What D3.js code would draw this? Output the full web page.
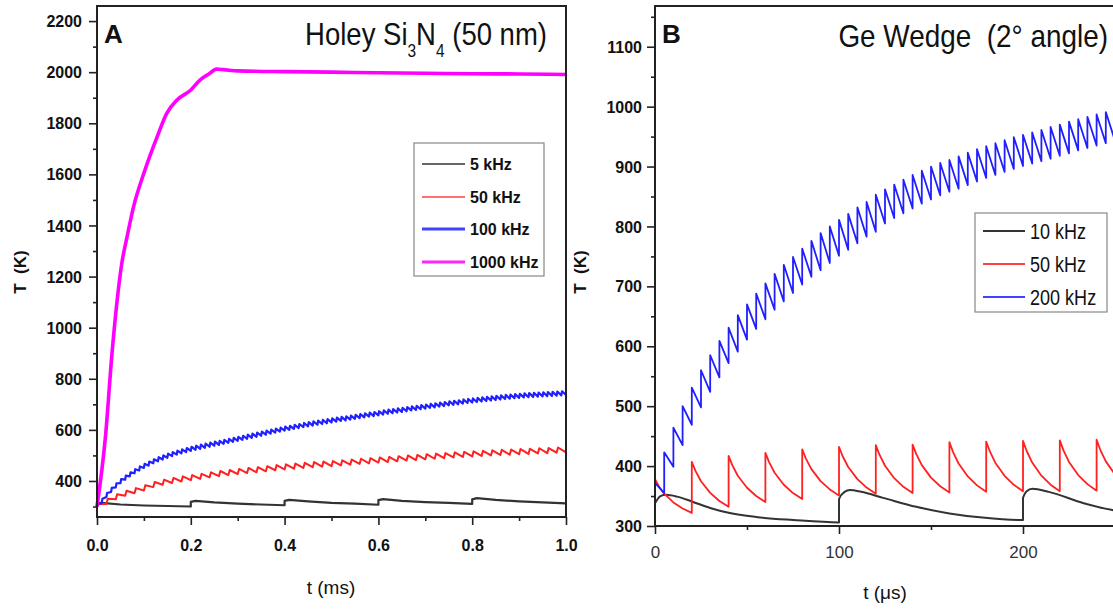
<!DOCTYPE html>
<html><head><meta charset="utf-8">
<script src="https://cdn.jsdelivr.net/npm/d3@7"></script>
<style>
body{margin:0;background:#fff;}
svg{display:block;font-family:"Liberation Sans",Arial,sans-serif;}
</style></head><body>
<svg id="chart" width="1113" height="610"></svg>
<script>
// ---------- Panel A data (Holey Si3N4) ----------
const aXMajor = [0, 0.2, 0.4, 0.6, 0.8, 1.0];
const aXMinor = [0.1, 0.3, 0.5, 0.7, 0.9];
const aYMajor = [400, 600, 800, 1000, 1200, 1400, 1600, 1800, 2000, 2200];
const aYMinor = [300, 500, 700, 900, 1100, 1300, 1500, 1700, 1900, 2100];
const aLegendLabels = ["5 kHz", "50 kHz", "100 kHz", "1000 kHz"];
const aColors = ["#333333", "#ff2020", "#2020ff", "#ff00ff"];

// 1000 kHz (ripple too fine to resolve)
const a1000Time = [0, 0.018, 0.032, 0.043, 0.053, 0.064, 0.078, 0.1, 0.128, 0.149, 0.17, 0.2, 0.22, 0.24, 0.255, 0.27, 0.3, 0.4, 0.5, 0.6, 0.7, 0.8, 0.9, 1.0];
const a1000T = [300, 573, 900, 1108, 1253, 1355, 1474, 1605, 1746, 1840, 1890, 1930, 1970, 1995, 2012, 2010, 2005, 2002, 2000, 1998, 1996, 1994, 1993, 1991];
// 100 kHz: mid value at each pulse (every 0.01 ms), ripple half-height
const a100Period = 0.01;
const a100Mid = [300,322,345,365,383,399,413,426,438,449,
  459,468,477,485,492,499,505,511,516,521,
  526,530,534,538,542,546,549,553,557,561,
  565,569,573,577,581,585,589,593,597,601,
  605,608,612,615,619,622,625,628,631,634,
  637,640,643,645,648,651,654,657,660,662,
  665,668,671,673,676,678,681,684,686,689,
  691,694,696,699,701,704,706,708,711,713,
  715,717,719,721,723,725,727,729,730,732,
  733,735,736,737,738,739,740,741,742,743,745];
const a100Ripple = 8;
// 50 kHz: mid value at each pulse (every 0.02 ms)
const a50Period = 0.02;
const a50Mid = [300,320,338,352,362,373,386,395,402,408,
  413,418,424,429,433,437,441,444,448,452,
  455,458,461,464,466,468,471,474,477,479,
  482,484,487,490,492,495,497,499,502,504,
  506,508,510,512,513,515,516,518,519,521,522];
const a50Ripple = 10;
// 5 kHz
const a5Time = [0,0,0.01,0.05,0.1,0.15,0.2,0.2,0.21,0.25,0.3,0.35,0.4,0.4,0.41,0.45,0.5,0.55,0.6,0.6,0.61,0.65,0.7,0.75,0.8,0.8,0.81,0.85,0.9,0.95,1.0];
const a5T = [300,312,314,308,304,302,300,318,322,316,311,308,305,322,326,320,314,311,307,325,329,322,317,314,310,328,333,326,320,316,312];

// ---------- Panel B data (Ge wedge) ----------
const bXMajor = [0, 100, 200];
const bXMinor = [50, 150, 250];
const bYMajor = [300, 400, 500, 600, 700, 800, 900, 1000, 1100];
const bYMinor = [350, 450, 550, 650, 750, 850, 950, 1050, 1150];
const bLegendLabels = ["10 kHz", "50 kHz", "200 kHz"];
const bColors = ["#333333", "#ff2020", "#2020ff"];

// 200 kHz: value at t=0, then value just before / just after each pulse (every 5 us)
const b200Period = 5;
const b200Start = 372;
const b200Before = [355,399,435,469,498,524,548,572,591,611,
  629,645,661,675,689,703,716,727,739,751,
  761,772,783,791,805,814,822,830,838,845,
  852,858,863,869,875,881,886,891,896,901,
  905,909,913,918,922,927,931,935,939,943];
const b200After = [423,464,500,531,560,585,609,631,652,670,
  688,705,721,736,749,763,776,789,800,811,
  821,832,841,853,862,870,878,886,893,900,
  906,911,917,923,929,934,939,944,949,953,
  957,961,966,970,975,979,983,987,991,994];
// 50 kHz: peak after each pulse (t = 0, 20, 40 ...) and value just before the next pulse
const b50Period = 20;
const b50Peak = [378,407,417,422,428,432,435,436,440,441,442,443,444];
const b50Low = [322,332,340,345,351,354,355,356,357,358,358,359,360];
const b50DecayPhase = [0, 0.1, 0.25, 0.5, 0.75, 1];
const b50DecayFrac = [0, 0.2, 0.43, 0.69, 0.87, 1];
// 10 kHz
const b10Time = [0,3,6,12,20,30,40,55,75,100,100,103,106,112,124,142,160,178,199,200,200,202,205,214,233,248,260];
const b10T = [338,350,352,349,341,330,322,315,310,306,345,357,360,357,347,332,321,314,310,310,347,358,362,357,338,327,322];

// ---------- drawing ----------
const svg = d3.select("#chart");
const aX = d3.scaleLinear().domain([0, 1]).range([97, 566]);
const aY = d3.scaleLinear().domain([259, 2259]).range([517, 6]);
const bX = d3.scaleLinear().domain([0, 300]).range([655, 1207]);
const bY = d3.scaleLinear().domain([300, 1168]).range([526, 6]);

function sawFromMid(period, mid, r) {
  const pts = [[0, mid[0]]];
  for (let k = 0; k < mid.length - 1; k++) {
    if (k > 0) pts.push([k * period, mid[k] - r]);
    pts.push([k * period + period * 0.15, mid[k] + r]);
  }
  pts.push([(mid.length - 1) * period, mid[mid.length - 1] - r]);
  return pts;
}

function drawLine(g, pts, xs, ys, color, w, curve) {
  const line = d3.line().x(d => xs(d[0])).y(d => ys(d[1]));
  if (curve) line.curve(curve);
  g.append("path").datum(pts).attr("d", line).attr("fill", "none")
    .attr("stroke", color).attr("stroke-width", w).attr("stroke-linejoin", "round");
}

function styleAxis(g, bold, size) {
  g.select(".domain").remove();
  g.selectAll(".tick line").attr("stroke", "#222").attr("stroke-width", 1.6);
  g.selectAll("text").attr("fill", "#111").style("font-size", size + "px")
    .style("font-weight", bold ? "bold" : "normal");
}

// ===== Panel A =====
const gA = svg.append("g");
drawLine(gA, a5Time.map((t, i) => [t, a5T[i]]), aX, aY, aColors[0], 2.2);
drawLine(gA, sawFromMid(a50Period, a50Mid, a50Ripple), aX, aY, aColors[1], 2);
drawLine(gA, sawFromMid(a100Period, a100Mid, a100Ripple), aX, aY, aColors[2], 2.2);
drawLine(gA, a1000Time.map((t, i) => [t, a1000T[i]]), aX, aY, aColors[3], 3.6, d3.curveMonotoneX);

gA.append("rect").attr("x", 97).attr("y", 6).attr("width", 469).attr("height", 511)
  .attr("fill", "none").attr("stroke", "#222").attr("stroke-width", 2);

let ax;
ax = gA.append("g").attr("transform", "translate(0,517)")
  .call(d3.axisBottom(aX).tickValues(aXMajor).tickSize(8).tickSizeOuter(0).tickFormat(d3.format(".1f")));
styleAxis(ax, true, 16);
ax.selectAll("text").attr("y", 28).attr("dy", "0.35em");
ax = gA.append("g").attr("transform", "translate(0,517)")
  .call(d3.axisBottom(aX).tickValues(aXMinor).tickSize(4).tickSizeOuter(0).tickFormat(""));
styleAxis(ax, true, 16);
ax = gA.append("g").attr("transform", "translate(97,0)")
  .call(d3.axisLeft(aY).tickValues(aYMajor).tickSize(8).tickSizeOuter(0).tickFormat(d3.format("d")));
styleAxis(ax, true, 16);
ax.selectAll("text").attr("x", -15).attr("dy", "0.35em");
ax = gA.append("g").attr("transform", "translate(97,0)")
  .call(d3.axisLeft(aY).tickValues(aYMinor).tickSize(4).tickSizeOuter(0).tickFormat(""));
styleAxis(ax, true, 16);

// panel letter + title
gA.append("text").attr("x", 104).attr("y", 43).text("A")
  .style("font-size", "26px").style("font-weight", "bold").attr("fill", "#111");
const tA = gA.append("text").attr("transform", "translate(547,45) scale(0.86,1)")
  .attr("text-anchor", "end").style("font-size", "32px").attr("fill", "#111");
tA.append("tspan").text("Holey Si");
tA.append("tspan").attr("dy", 12).style("font-size", "18px").text("3");
tA.append("tspan").attr("dy", -12).text("N");
tA.append("tspan").attr("dy", 12).style("font-size", "18px").text("4");
tA.append("tspan").attr("dy", -12).text(" (50 nm)");

// axis titles
gA.append("text").attr("transform", "translate(26,272) rotate(-90)").attr("text-anchor", "middle")
  .style("font-size", "17px").style("font-weight", "bold").style("white-space", "pre").attr("fill", "#111").text("T  (K)");
gA.append("text").attr("x", 331).attr("y", 594).attr("text-anchor", "middle")
  .style("font-size", "19px").attr("fill", "#111").text("t (ms)");

// legend A
const lgA = gA.append("g");
lgA.append("rect").attr("x", 414).attr("y", 143).attr("width", 130).attr("height", 133)
  .attr("fill", "#fff").attr("stroke", "#888").attr("stroke-width", 1.2);
const aLegW = [1.6, 1.6, 3.2, 3.2];
const aLegYs = [164, 197, 229, 262];
aLegendLabels.forEach((lab, i) => {
  lgA.append("line").attr("x1", 422).attr("x2", 465).attr("y1", aLegYs[i]).attr("y2", aLegYs[i])
    .attr("stroke", aColors[i]).attr("stroke-width", aLegW[i]).attr("opacity", i === 0 ? 1 : 0.85);
  lgA.append("text").attr("x", 470).attr("y", aLegYs[i]).attr("dy", "0.36em")
    .style("font-size", "16px").style("font-weight", "bold").attr("fill", "#111").text(lab);
});

// ===== Panel B =====
const gB = svg.append("g");
// 10 kHz
drawLine(gB, b10Time.map((t, i) => [t, b10T[i]]), bX, bY, bColors[0], 2, d3.curveMonotoneX);
// 50 kHz
const b50Pts = [];
b50Peak.forEach((p, k) => {
  const t0 = k * b50Period;
  b50DecayPhase.forEach((ph, j) => {
    b50Pts.push([t0 + ph * b50Period, p - b50DecayFrac[j] * (p - b50Low[k])]);
  });
});
drawLine(gB, b50Pts, bX, bY, bColors[1], 1.8);
// 200 kHz
const b200Pts = [[0, b200Start]];
b200Before.forEach((v, k) => {
  const t = (k + 1) * b200Period;
  b200Pts.push([t, v]);
  b200Pts.push([t, b200After[k]]);
});
drawLine(gB, b200Pts, bX, bY, bColors[2], 1.8);

gB.append("rect").attr("x", 655).attr("y", 6).attr("width", 552).attr("height", 520)
  .attr("fill", "none").attr("stroke", "#222").attr("stroke-width", 2);

ax = gB.append("g").attr("transform", "translate(0,526)")
  .call(d3.axisBottom(bX).tickValues(bXMajor).tickSize(8).tickSizeOuter(0).tickFormat(d3.format("d")));
styleAxis(ax, false, 17);
ax.selectAll("text").attr("y", 26).attr("dy", "0.35em").attr("fill", "#333");
ax = gB.append("g").attr("transform", "translate(0,526)")
  .call(d3.axisBottom(bX).tickValues(bXMinor).tickSize(4).tickSizeOuter(0).tickFormat(""));
styleAxis(ax, false, 17);
ax = gB.append("g").attr("transform", "translate(655,0)")
  .call(d3.axisLeft(bY).tickValues(bYMajor).tickSize(8).tickSizeOuter(0).tickFormat(d3.format("d")));
styleAxis(ax, true, 16);
ax.selectAll("text").attr("x", -13).attr("dy", "0.35em");
ax = gB.append("g").attr("transform", "translate(655,0)")
  .call(d3.axisLeft(bY).tickValues(bYMinor).tickSize(4).tickSizeOuter(0).tickFormat(""));
styleAxis(ax, true, 16);

gB.append("text").attr("x", 662).attr("y", 43).text("B")
  .style("font-size", "26px").style("font-weight", "bold").attr("fill", "#111");
gB.append("text").attr("transform", "translate(1108,47) scale(0.9,1)").attr("text-anchor", "end")
  .style("font-size", "31px").style("white-space", "pre").attr("fill", "#111").text("Ge Wedge  (2\u00b0 angle)");

gB.append("text").attr("transform", "translate(586,272) rotate(-90)").attr("text-anchor", "middle")
  .style("font-size", "17px").style("font-weight", "bold").style("white-space", "pre").attr("fill", "#111").text("T  (K)");
gB.append("text").attr("x", 885).attr("y", 599).attr("text-anchor", "middle")
  .style("font-size", "19px").attr("fill", "#111").text("t (\u03bcs)");

// legend B
const lgB = gB.append("g");
lgB.append("rect").attr("x", 975).attr("y", 213).attr("width", 132).attr("height", 99)
  .attr("fill", "#fff").attr("stroke", "#888").attr("stroke-width", 1.2);
const bLegYs = [231, 264, 297];
bLegendLabels.forEach((lab, i) => {
  lgB.append("line").attr("x1", 983).attr("x2", 1025).attr("y1", bLegYs[i]).attr("y2", bLegYs[i])
    .attr("stroke", bColors[i]).attr("stroke-width", 2).attr("opacity", i === 0 ? 1 : 0.85);
  lgB.append("text").attr("transform", `translate(1030,${bLegYs[i] + 8}) scale(0.82,1)`)
    .style("font-size", "22px").attr("fill", "#111").text(lab);
});
</script></body></html>
